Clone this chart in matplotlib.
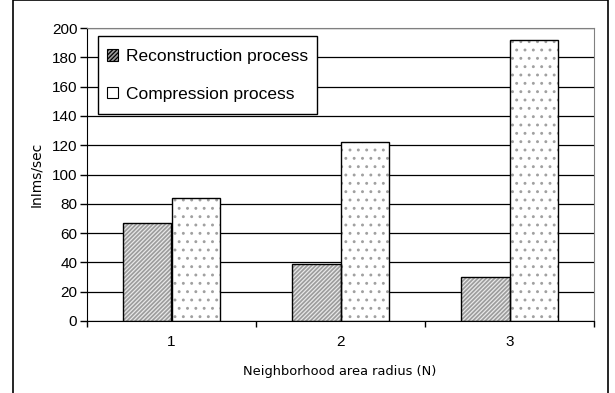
import matplotlib
matplotlib.use('Agg')
from matplotlib import pyplot as plt
from matplotlib.patches import Rectangle, Patch
import numpy as np

categories = ['1', '2', '3']
reconstruction = [67, 39, 30]
compression = [84, 122, 192]
series_labels = ['Reconstruction process', 'Compression process']
y_ticks = list(range(0, 201, 20))

plt.rcParams['hatch.linewidth'] = 0.9

W, H = 615, 393
fig = plt.figure(figsize=(W/100, H/100), dpi=100)

# outer frame around the whole chart
fig.patches.append(Rectangle((13/W, -0.05), (608-13)/W, 1.05 - 0.5/H, transform=fig.transFigure,
                             fill=False, edgecolor='black', linewidth=1.2, zorder=0))

ax = fig.add_axes([87/W, (H-321)/H, (594-87)/W, (321-28)/H])

x = np.arange(1, len(categories)+1)
bw = 0.285

# fill + hatch, then a black outline on top
ax.bar(x - bw/2, reconstruction, bw, color='#9c9c9c', edgecolor='#e8e8e8', hatch='////////', linewidth=0, zorder=2)
ax.bar(x - bw/2, reconstruction, bw, fill=False, edgecolor='black', linewidth=1, zorder=3)
ax.bar(x + bw/2, compression, bw, color='white', edgecolor='#a0a0a0', hatch='..', linewidth=0, zorder=2)
ax.bar(x + bw/2, compression, bw, fill=False, edgecolor='black', linewidth=1, zorder=3)

ax.set_xlim(0.5, 3.5)
ax.set_ylim(0, 200)
ax.set_yticks(y_ticks)
ax.yaxis.grid(True, color='black', linewidth=0.9, zorder=0)
ax.set_axisbelow(True)

ax.set_xticks([0.5, 1.5, 2.5, 3.5])
ax.set_xticklabels([])
ax.set_xticks(x, minor=True)
ax.set_xticklabels(categories, minor=True, fontfamily='Liberation Sans', fontsize=11)
ax.tick_params(axis='x', which='major', direction='out', length=4, width=1)
ax.tick_params(axis='x', which='minor', length=0, pad=10)
ax.tick_params(axis='y', direction='out', length=5, width=1, pad=2)
for lab in ax.get_yticklabels():
    lab.set_fontfamily('Liberation Sans')
    lab.set_fontsize(11)

for s in ['top', 'right']:
    ax.spines[s].set_color('#808080')
for s in ['left', 'bottom']:
    ax.spines[s].set_color('black')

# legend box drawn separately so the padding can be uneven like the original
fig.patches.append(Rectangle((98/W, 1 - 114/H), (317-98)/W, (114-36)/H, transform=fig.transFigure,
                             facecolor='white', edgecolor='black', linewidth=1, zorder=4))
handles = [Patch(facecolor='#9c9c9c', edgecolor='black', hatch='////////', linewidth=0.8),
           Patch(facecolor='white', edgecolor='black', linewidth=0.8)]
leg = fig.legend(handles, series_labels, loc='upper left', bbox_to_anchor=(107/W, 1 - 49/H),
                 bbox_transform=fig.transFigure, borderaxespad=0, borderpad=0, frameon=False,
                 prop={'family': 'Liberation Sans', 'size': 12.5}, handlelength=0.65, handleheight=0.65,
                 handletextpad=0.45, labelspacing=1.3)
leg.set_zorder(5)

fig.text(340/W, 1 - 371/H, 'Neighborhood area radius (N)', ha='center', va='center',
         fontfamily='DejaVu Sans', fontsize=9.4)
fig.text(36/W, 1 - 174/H, 'InIms/sec', ha='center', va='center', rotation=90,
         fontfamily='DejaVu Sans', fontsize=10)

fig.savefig('out.png', dpi=100)
